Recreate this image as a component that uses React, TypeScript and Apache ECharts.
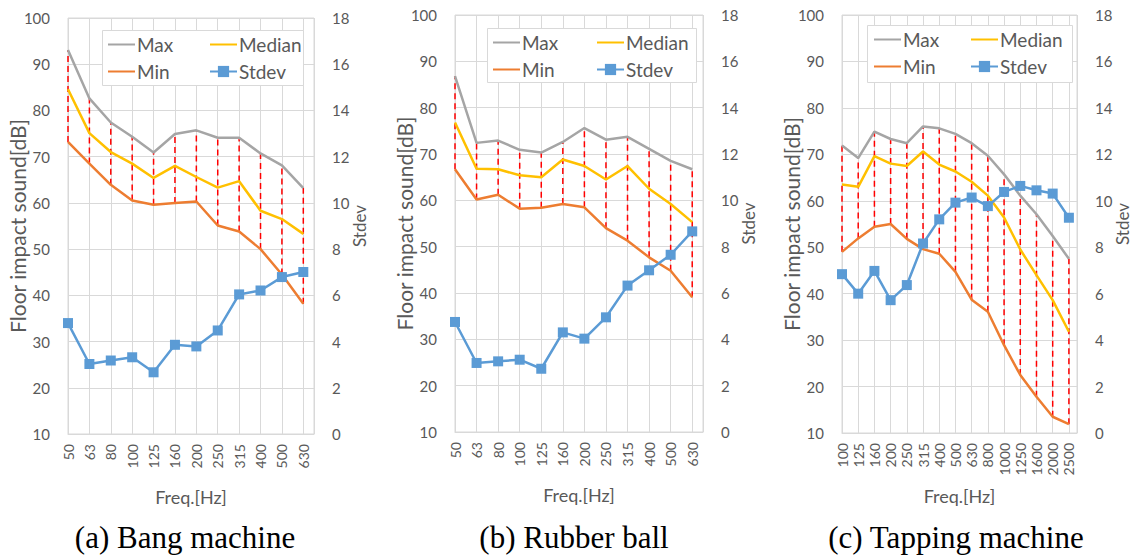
import React, { useEffect, useRef } from "react";
import * as echarts from "echarts";

const catsAB = ["50", "63", "80", "100", "125", "160", "200", "250", "315", "400", "500", "630"];
const catsC = ["100", "125", "160", "200", "250", "315", "400", "500", "630", "800", "1000", "1250", "1600", "2000", "2500"];

const maxA = [93.1, 82.6, 77.4, 74.3, 70.9, 74.9, 75.7, 74.1, 74.1, 70.7, 68.1, 63.2];
const medA = [84.6, 75.1, 71.0, 68.5, 65.4, 68.0, 65.6, 63.3, 64.7, 58.3, 56.5, 53.3];
const minA = [73.2, 68.5, 63.9, 60.5, 59.6, 60.0, 60.3, 55.1, 53.8, 50.0, 44.5, 38.2];
const sdA = [4.8, 3.03, 3.18, 3.32, 2.67, 3.86, 3.79, 4.48, 6.04, 6.21, 6.79, 7.01];

const maxB = [86.8, 72.4, 72.9, 70.9, 70.3, 72.6, 75.6, 73.1, 73.7, 71.1, 68.5, 66.7];
const medB = [76.8, 66.8, 66.7, 65.4, 65.0, 68.8, 67.4, 64.5, 67.4, 62.5, 59.2, 55.3];
const minB = [66.7, 60.2, 61.2, 58.2, 58.4, 59.2, 58.5, 54.0, 51.3, 47.7, 44.8, 39.1];
const sdB = [4.75, 2.98, 3.05, 3.12, 2.73, 4.3, 4.03, 4.95, 6.32, 6.98, 7.65, 8.66];

const maxC = [71.9, 69.2, 74.9, 73.3, 72.4, 76.0, 75.6, 74.4, 72.4, 69.7, 65.7, 61.1, 57.1, 52.4, 47.5];
const medC = [63.5, 63.0, 69.6, 68.0, 67.5, 70.6, 67.8, 66.3, 64.1, 61.1, 56.4, 49.5, 44.0, 38.6, 31.8];
const minC = [49.0, 51.9, 54.4, 55.0, 51.8, 49.6, 48.6, 44.7, 38.7, 36.1, 28.9, 22.5, 17.8, 13.5, 11.9];
const sdC = [6.84, 6.0, 6.98, 5.72, 6.37, 8.16, 9.2, 9.92, 10.14, 9.77, 10.38, 10.64, 10.45, 10.31, 9.27];

const captions = ["(a) Bang machine", "(b) Rubber ball", "(c) Tapping machine"];

const panels = [
  { cats: catsAB, max: maxA, med: medA, min: minA, sd: sdA },
  { cats: catsAB, max: maxB, med: medB, min: minB, sd: sdB },
  { cats: catsC, max: maxC, med: medC, min: minC, sd: sdC },
];

// layout (pixels)
const grids = [
  { left: 68, top: 18, width: 246, height: 416 },
  { left: 455, top: 15, width: 248, height: 417 },
  { left: 842, top: 15, width: 236, height: 418 },
];
const legendBoxes = [
  { x: 102, y: 30, w: 201, h: 55, c1: 107, c2: 209, row: 35 },
  { x: 487, y: 28, w: 209, h: 54, c1: 492, c2: 596, row: 33 },
  { x: 867, y: 25, w: 205, h: 57, c1: 873, c2: 970, row: 30 },
];
const captionX = [185, 574, 956];

const GRAY = "#A5A5A5";
const ORANGE = "#ED7D31";
const YELLOW = "#FFC000";
const BLUE = "#5B9BD5";
const GRID = "#D9D9D9";
const TXT = "#595959";
const FONT = "Lato";

export default function App() {
  const ref = useRef<HTMLDivElement>(null);
  useEffect(() => {
    if (!ref.current) return;
    const chart = echarts.init(ref.current, undefined, { renderer: "svg" });
    const grid: any[] = [];
    const xAxis: any[] = [];
    const yAxis: any[] = [];
    const series: any[] = [];
    const legend: any[] = [];
    const graphic: any[] = [];

    panels.forEach((p, i) => {
      const g = grids[i];
      grid.push({ ...g, show: true, borderColor: GRID, borderWidth: 1, backgroundColor: "transparent" });
      const cats = p.cats;
      xAxis.push({
        type: "value",
        gridIndex: i,
        min: 0,
        max: cats.length - 0.5,
        interval: 1,
        axisLine: { show: true, lineStyle: { color: GRID, width: 1 } },
        axisTick: { show: false },
        splitLine: { show: true, lineStyle: { color: GRID, width: 1 } },
        axisLabel: {
          rotate: 90,
          margin: 10,
          color: TXT,
          fontFamily: FONT,
          fontSize: 14,
          formatter: (v: number) => (Number.isInteger(v) && cats[v] !== undefined ? cats[v] : ""),
        },
        name: "Freq.[Hz]",
        nameLocation: "middle",
        nameGap: 54,
        nameMoveOverlap: false,
        nameTextStyle: { color: TXT, fontFamily: FONT, fontSize: 18 },
      });
      yAxis.push({
        type: "value",
        gridIndex: i,
        position: "left",
        min: 10,
        max: 100,
        interval: 10,
        axisLine: { show: false },
        axisTick: { show: false },
        splitLine: { show: true, lineStyle: { color: GRID, width: 1 } },
        axisLabel: { color: TXT, fontFamily: FONT, fontSize: 15, margin: 18 },
        name: "Floor impact sound[dB]",
        nameLocation: "middle",
        nameRotate: 90,
        nameGap: 40,
        nameMoveOverlap: false,
        nameTextStyle: { color: TXT, fontFamily: FONT, fontSize: 21 },
      });
      yAxis.push({
        type: "value",
        gridIndex: i,
        position: "right",
        min: 0,
        max: 18,
        interval: 2,
        axisLine: { show: false },
        axisTick: { show: false },
        splitLine: { show: false },
        axisLabel: { color: TXT, fontFamily: FONT, fontSize: 15, margin: 18 },
        name: "Stdev",
        nameLocation: "middle",
        nameRotate: 90,
        nameGap: 37,
        nameMoveOverlap: false,
        nameTextStyle: { color: TXT, fontFamily: FONT, fontSize: 17 },
      });
      const ly = 2 * i;
      series.push({
        type: "custom",
        name: "range" + i,
        xAxisIndex: i,
        yAxisIndex: ly,
        z: 1,
        data: cats.map((_, k) => [k, p.min[k], p.max[k]]),
        encode: { x: 0, y: [1, 2] },
        renderItem: (params: any, api: any) => {
          const x = api.value(0);
          const lo = api.coord([x, api.value(1)]);
          const hi = api.coord([x, api.value(2)]);
          return {
            type: "line",
            shape: { x1: lo[0], y1: lo[1], x2: hi[0], y2: hi[1] },
            style: { stroke: "#FF0000", lineWidth: 1.5, lineDash: [6, 4] },
          };
        },
      });
      const mkLine = (name: string, vals: number[], color: string, yi: number, marker: boolean) => ({
        type: "line",
        name,
        xAxisIndex: i,
        yAxisIndex: yi,
        data: vals.map((v, k) => [k, v]),
        symbol: marker ? "rect" : "none",
        symbolSize: marker ? 10 : 0,
        showSymbol: marker,
        lineStyle: { color, width: 2.5 },
        itemStyle: { color },
        z: marker ? 4 : 3,
      });
      series.push(mkLine("Max", p.max, GRAY, ly, false));
      series.push(mkLine("Median", p.med, YELLOW, ly, false));
      series.push(mkLine("Min", p.min, ORANGE, ly, false));
      series.push(mkLine("Stdev", p.sd, BLUE, ly + 1, true));

      const lb = legendBoxes[i];
      graphic.push({
        type: "rect",
        z: 5,
        shape: { x: lb.x + 0.5, y: lb.y + 0.5, width: lb.w, height: lb.h },
        style: { fill: "#fff", stroke: GRID, lineWidth: 1 },
      });
      const lstyle = {
        orient: "vertical",
        top: lb.row,
        itemGap: 8,
        itemWidth: 27,
        itemHeight: 14,
        padding: 0,
        z: 10,
        selectedMode: false,
        textStyle: { color: TXT, fontFamily: FONT, fontSize: 19, padding: [0, 0, 0, -3] },
      };
      const noSym = { opacity: 0 };
      legend.push({
        ...lstyle,
        left: lb.c1,
        data: [
          { name: "Max", itemStyle: noSym },
          { name: "Min", itemStyle: noSym },
        ],
      });
      legend.push({
        ...lstyle,
        left: lb.c2,
        data: [{ name: "Median", itemStyle: noSym }, { name: "Stdev" }],
      });

      graphic.push({
        type: "text",
        x: captionX[i],
        y: 537,
        style: {
          text: captions[i],
          fill: "#000",
          fontFamily: "Liberation Serif",
          fontSize: 31,
          align: "center",
          verticalAlign: "middle",
        },
      });
    });

    chart.setOption({
      animation: false,
      backgroundColor: "#fff",
      grid,
      xAxis,
      yAxis,
      series,
      legend,
      graphic,
    });
    return () => chart.dispose();
  }, []);
  return (
    <div
      ref={ref}
      style={{ position: "absolute", left: 0, top: 0, width: 1132, height: 556 }}
    />
  );
}
